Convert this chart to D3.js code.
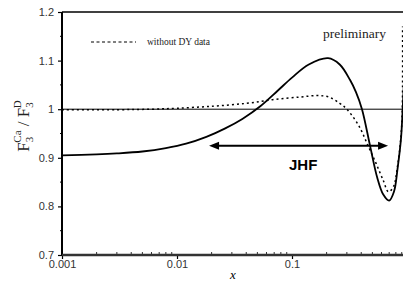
<!DOCTYPE html>
<html>
<head>
<meta charset="utf-8">
<script src="https://cdn.jsdelivr.net/npm/d3@7"></script>
<style>
  body { margin: 0; background: #fff; }
  svg { display: block; }
</style>
</head>
<body>
<div id="chart"></div>
<script>
// solid: full fit, dotted: fit without DY data
var solidX = [0.001, 0.002, 0.003, 0.005, 0.008, 0.012, 0.018, 0.026, 0.037, 0.053, 0.075, 0.1, 0.14, 0.206, 0.26, 0.32, 0.36, 0.406, 0.477, 0.55, 0.62, 0.70, 0.77, 0.83, 0.887, 0.92, 0.95];
var solidY = [0.905, 0.907, 0.909, 0.913, 0.92, 0.929, 0.943, 0.96, 0.98, 1.006, 1.038, 1.065, 1.092, 1.105, 1.092, 1.06, 1.035, 1.0, 0.925, 0.86, 0.825, 0.812, 0.83, 0.88, 0.94, 1.007, 1.08];

var dotX = [0.001, 0.003, 0.006, 0.01, 0.02, 0.04, 0.07, 0.117, 0.166, 0.21, 0.26, 0.30, 0.383, 0.458, 0.537, 0.62, 0.69, 0.76, 0.83, 0.887, 0.91, 0.915];
var dotY = [0.999, 0.999, 1.0, 1.002, 1.006, 1.012, 1.02, 1.025, 1.028, 1.025, 1.012, 1.0, 0.965, 0.925, 0.889, 0.854, 0.83, 0.84, 0.885, 0.945, 1.0, 1.17];

var yTicks = [0.7, 0.8, 0.9, 1.0, 1.1, 1.2];
var yTickLabels = ['0.7', '0.8', '0.9', '1', '1.1', '1.2'];
var xTicks = [0.001, 0.01, 0.1];
var xTickLabels = ['0.001', '0.01', '0.1'];
var arrowRange = [0.019, 0.684];
var arrowLevel = 0.925;

var width = 403, height = 282;
var pLeft = 62, pTop = 12, pRight = 407, pBottom = 255;

var x = d3.scaleLog().domain([0.001, 1]).range([pLeft, pRight]);
var y = d3.scaleLinear().domain([0.7, 1.2]).range([pBottom, pTop]);

var svg = d3.select('#chart').append('svg')
    .attr('width', width).attr('height', height);

svg.append('defs').append('clipPath').attr('id', 'plot')
   .append('rect').attr('x', pLeft).attr('y', pTop)
   .attr('width', pRight - pLeft).attr('height', pBottom - pTop);

// frame
svg.append('line').attr('x1', pLeft).attr('x2', pRight).attr('y1', pTop).attr('y2', pTop)
   .attr('stroke', '#000').attr('stroke-width', 1.5);

// reference line at 1
svg.append('line').attr('x1', pLeft).attr('x2', pRight).attr('y1', y(1)).attr('y2', y(1))
   .attr('stroke', '#000').attr('stroke-width', 1);

// y axis
var yAxis = svg.append('g').attr('transform', 'translate(' + pLeft + ',0)')
   .call(d3.axisLeft(y).tickValues(yTicks).tickSize(4).tickFormat(function(d, i) { return yTickLabels[i]; }));
yAxis.select('.domain').remove();
yAxis.selectAll('text').attr('font-family', 'Liberation Sans, Arial, sans-serif')
     .attr('font-size', 11).attr('fill', '#333').attr('dx', -1);
yAxis.selectAll('.tick line').attr('stroke-width', 1.2);
svg.append('g').selectAll('line').data(d3.range(0.75, 1.2, 0.1)).enter().append('line')
   .attr('x1', pLeft - 2).attr('x2', pLeft).attr('y1', function(d) { return y(d); })
   .attr('y2', function(d) { return y(d); }).attr('stroke', '#000');
svg.append('line').attr('x1', pLeft).attr('x2', pLeft).attr('y1', pTop).attr('y2', pBottom)
   .attr('stroke', '#000').attr('stroke-width', 2);

// x axis
var minor = [];
[0.001, 0.01, 0.1].forEach(function(d) {
    for (var k = 2; k <= 9; k++) minor.push(d * k);
});
svg.append('g').selectAll('line').data(minor).enter().append('line')
   .attr('x1', function(d) { return x(d); }).attr('x2', function(d) { return x(d); })
   .attr('y1', pBottom - 3).attr('y2', pBottom).attr('stroke', '#333');
var xAxis = svg.append('g').attr('transform', 'translate(0,' + pBottom + ')')
   .call(d3.axisBottom(x).tickValues(xTicks).tickSize(4).tickFormat(function(d, i) { return xTickLabels[i]; }));
xAxis.select('.domain').remove();
xAxis.selectAll('text').attr('font-family', 'Liberation Sans, Arial, sans-serif')
     .attr('font-size', 11).attr('fill', '#333').attr('dy', '0.55em');
xAxis.selectAll('.tick line').attr('stroke-width', 1.2);
svg.append('line').attr('x1', pLeft).attr('x2', pRight).attr('y1', pBottom).attr('y2', pBottom)
   .attr('stroke', '#333').attr('stroke-width', 2.5);

// curves
var line = d3.line().x(function(d) { return x(d[0]); }).y(function(d) { return y(d[1]); })
             .curve(d3.curveCatmullRom.alpha(0.5));
var plot = svg.append('g').attr('clip-path', 'url(#plot)');
plot.append('path').datum(dotX.map(function(v, i) { return [v, dotY[i]]; }))
    .attr('d', line).attr('fill', 'none').attr('stroke', '#000')
    .attr('stroke-width', 1.5).attr('stroke-dasharray', '2,3');
plot.append('path').datum(solidX.map(function(v, i) { return [v, solidY[i]]; }))
    .attr('d', line).attr('fill', 'none').attr('stroke', '#000').attr('stroke-width', 1.8);

// JHF arrow
var ay = y(arrowLevel), ax1 = x(arrowRange[0]), ax2 = x(arrowRange[1]);
svg.append('line').attr('x1', ax1 + 8).attr('x2', ax2 - 8).attr('y1', ay).attr('y2', ay)
   .attr('stroke', '#000').attr('stroke-width', 2);
svg.append('path').attr('d', 'M' + ax1 + ',' + ay + 'l10,-4l0,8z').attr('fill', '#000');
svg.append('path').attr('d', 'M' + ax2 + ',' + ay + 'l-10,-4l0,8z').attr('fill', '#000');
svg.append('text').attr('x', 289).attr('y', 170).attr('font-family', 'Liberation Sans, Arial, sans-serif')
   .attr('font-weight', 'bold').attr('font-size', 15).text('JHF');

// legend
svg.append('line').attr('x1', 91).attr('x2', 136).attr('y1', 42).attr('y2', 42)
   .attr('stroke', '#000').attr('stroke-width', 1).attr('stroke-dasharray', '3,2.5');
svg.append('text').attr('x', 147).attr('y', 45).attr('font-family', 'Liberation Serif, Times New Roman, serif')
   .attr('font-size', 9.5).attr('fill', '#222').text('without DY data');

svg.append('text').attr('x', 323).attr('y', 38).attr('font-family', 'Liberation Serif, Times New Roman, serif')
   .attr('font-size', 13.5).attr('fill', '#222').text('preliminary');

// axis titles
svg.append('text').attr('x', 233).attr('y', 279).attr('font-family', 'Liberation Serif, Times New Roman, serif')
   .attr('font-style', 'italic').attr('font-size', 13).attr('text-anchor', 'middle').text('x');

var yt = svg.append('text').attr('transform', 'translate(29,126) rotate(-90)')
   .attr('text-anchor', 'middle').attr('font-family', 'Liberation Serif, Times New Roman, serif')
   .attr('font-size', 17).attr('fill', '#222');
yt.append('tspan').text('F');
yt.append('tspan').attr('font-size', 11).attr('dy', 4).text('3');
yt.append('tspan').attr('font-size', 11).attr('dx', -6).attr('dy', -12).text('Ca');
yt.append('tspan').attr('dy', 8).text(' / F');
yt.append('tspan').attr('font-size', 11).attr('dy', 4).text('3');
yt.append('tspan').attr('font-size', 11).attr('dx', -6).attr('dy', -12).text('D');
</script>
</body>
</html>
